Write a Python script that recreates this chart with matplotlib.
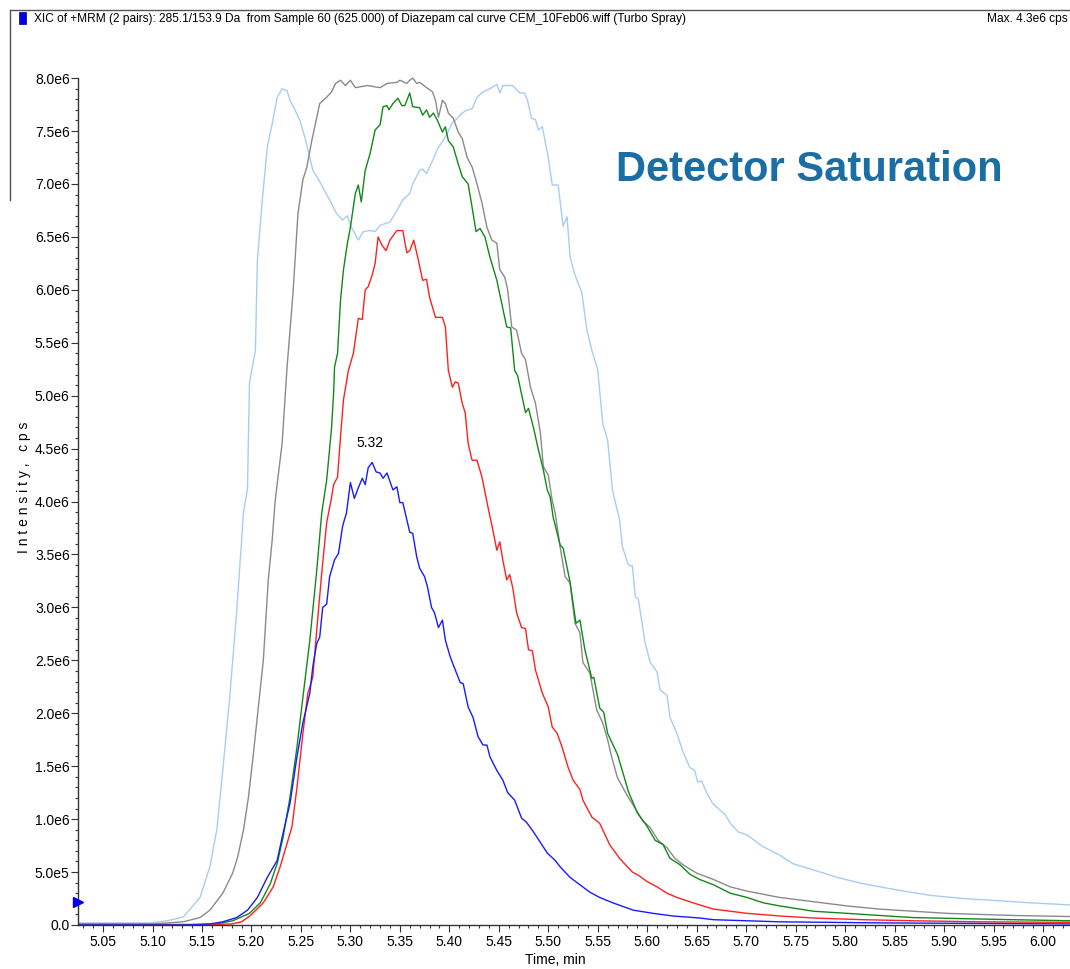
import matplotlib
matplotlib.use("Agg")
import matplotlib.pyplot as plt
from matplotlib.lines import Line2D
from matplotlib.patches import Rectangle
from matplotlib.ticker import MultipleLocator, FuncFormatter

plt.rcParams['font.family'] = ['Liberation Sans', 'DejaVu Sans']

#####################   Data (intensity in 1e6 cps)   ##################
# light blue - saturated sample
lb_t = [5.025, 5.060, 5.098, 5.115, 5.131, 5.148, 5.158, 5.165, 5.171, 5.178, 5.185, 5.192, 5.196,
        5.198, 5.204, 5.206, 5.211, 5.216, 5.221, 5.226, 5.231, 5.236, 5.239, 5.244, 5.249, 5.254,
        5.259, 5.262, 5.266, 5.272, 5.279, 5.286, 5.292, 5.297, 5.300, 5.308, 5.313, 5.320, 5.325,
        5.330, 5.340, 5.347, 5.353, 5.360, 5.363, 5.370, 5.373, 5.377, 5.383, 5.388, 5.393, 5.398,
        5.403, 5.406, 5.413, 5.418, 5.423, 5.428, 5.434, 5.441, 5.448, 5.451, 5.454, 5.464, 5.471,
        5.476, 5.479, 5.483, 5.487, 5.490, 5.494, 5.500, 5.504, 5.510, 5.515, 5.519, 5.522, 5.527,
        5.534, 5.539, 5.544, 5.550, 5.555, 5.560, 5.565, 5.572, 5.575, 5.581, 5.585, 5.588, 5.591,
        5.598, 5.603, 5.610, 5.613, 5.620, 5.623, 5.630, 5.636, 5.643, 5.648, 5.651, 5.655, 5.660,
        5.666, 5.679, 5.684, 5.692, 5.701, 5.717, 5.734, 5.747, 5.768, 5.792, 5.818, 5.853, 5.886,
        5.919, 5.954, 5.987, 6.027]
lb_y = [0.02, 0.02, 0.02, 0.04, 0.075, 0.26, 0.55, 0.90, 1.46, 2.15, 2.95, 3.90, 4.12,
        5.12, 5.43, 6.28, 6.85, 7.35, 7.57, 7.82, 7.90, 7.88, 7.79, 7.70, 7.60, 7.44,
        7.25, 7.13, 7.07, 6.97, 6.85, 6.72, 6.66, 6.70, 6.61, 6.47, 6.55, 6.56, 6.55,
        6.61, 6.64, 6.75, 6.85, 6.91, 7.00, 7.13, 7.14, 7.10, 7.22, 7.33, 7.40, 7.48,
        7.58, 7.60, 7.67, 7.70, 7.71, 7.82, 7.87, 7.90, 7.94, 7.86, 7.93, 7.93, 7.86,
        7.86, 7.79, 7.62, 7.61, 7.51, 7.54, 7.25, 6.99, 6.99, 6.60, 6.69, 6.31, 6.14,
        5.97, 5.62, 5.43, 5.24, 4.74, 4.58, 4.10, 3.83, 3.57, 3.40, 3.39, 3.10, 3.08,
        2.66, 2.48, 2.39, 2.22, 2.17, 1.96, 1.81, 1.64, 1.49, 1.46, 1.35, 1.36, 1.25,
        1.15, 1.04, 0.96, 0.88, 0.85, 0.74, 0.66, 0.58, 0.52, 0.45, 0.39, 0.33, 0.28,
        0.25, 0.23, 0.21, 0.19]

# gray
gr_t = [5.025, 5.100, 5.131, 5.148, 5.158, 5.171, 5.181, 5.186, 5.192, 5.197, 5.202, 5.207, 5.212,
        5.217, 5.221, 5.224, 5.231, 5.236, 5.242, 5.247, 5.252, 5.256, 5.261, 5.264, 5.269, 5.276,
        5.281, 5.285, 5.290, 5.295, 5.300, 5.305, 5.317, 5.330, 5.337, 5.347, 5.350, 5.357, 5.360,
        5.363, 5.367, 5.370, 5.377, 5.383, 5.386, 5.389, 5.393, 5.396, 5.399, 5.404, 5.409, 5.413,
        5.418, 5.423, 5.428, 5.433, 5.438, 5.443, 5.448, 5.451, 5.456, 5.459, 5.463, 5.468, 5.473,
        5.477, 5.482, 5.487, 5.492, 5.495, 5.500, 5.504, 5.507, 5.512, 5.517, 5.522, 5.527, 5.532,
        5.535, 5.542, 5.549, 5.555, 5.560, 5.564, 5.570, 5.580, 5.586, 5.595, 5.603, 5.611, 5.620,
        5.628, 5.636, 5.650, 5.667, 5.684, 5.701, 5.734, 5.768, 5.802, 5.835, 5.869, 5.903, 5.936,
        5.970, 6.027]
gr_y = [0.01, 0.01, 0.03, 0.07, 0.14, 0.30, 0.49, 0.64, 0.90, 1.21, 1.62, 2.06, 2.50,
        3.26, 3.64, 4.01, 4.55, 5.27, 5.97, 6.72, 7.04, 7.16, 7.41, 7.54, 7.76, 7.82,
        7.87, 7.95, 7.98, 7.93, 7.98, 7.91, 7.93, 7.91, 7.95, 7.96, 7.98, 7.95, 7.98,
        8.00, 7.95, 7.96, 7.91, 7.87, 7.79, 7.63, 7.79, 7.76, 7.67, 7.62, 7.49, 7.43,
        7.25, 7.16, 7.00, 6.82, 6.59, 6.47, 6.44, 6.19, 6.12, 6.00, 5.65, 5.62, 5.40,
        5.34, 5.08, 4.93, 4.65, 4.33, 4.25, 4.01, 3.89, 3.57, 3.29, 3.23, 2.85, 2.76,
        2.48, 2.38, 2.03, 1.91, 1.75, 1.59, 1.39, 1.22, 1.13, 0.99, 0.92, 0.80, 0.73,
        0.63, 0.57, 0.49, 0.43, 0.36, 0.32, 0.26, 0.22, 0.18, 0.15, 0.13, 0.11, 0.10,
        0.09, 0.08]

# green
gn_t = [5.025, 5.148, 5.165, 5.181, 5.198, 5.209, 5.219, 5.226, 5.232, 5.239, 5.246, 5.252, 5.259,
        5.266, 5.271, 5.276, 5.281, 5.283, 5.284, 5.287, 5.290, 5.293, 5.297, 5.300, 5.305, 5.308,
        5.311, 5.315, 5.320, 5.325, 5.330, 5.333, 5.337, 5.339, 5.343, 5.348, 5.352, 5.355, 5.360,
        5.363, 5.370, 5.373, 5.377, 5.380, 5.384, 5.388, 5.393, 5.396, 5.399, 5.404, 5.408, 5.413,
        5.419, 5.423, 5.427, 5.431, 5.436, 5.441, 5.448, 5.453, 5.458, 5.462, 5.466, 5.469, 5.477,
        5.480, 5.485, 5.490, 5.495, 5.499, 5.502, 5.505, 5.512, 5.515, 5.522, 5.528, 5.532, 5.537,
        5.544, 5.546, 5.552, 5.556, 5.560, 5.570, 5.576, 5.581, 5.590, 5.600, 5.608, 5.616, 5.623,
        5.633, 5.643, 5.653, 5.667, 5.684, 5.701, 5.717, 5.734, 5.768, 5.802, 5.835, 5.869, 5.919,
        5.970, 6.027]
gn_y = [0.005, 0.005, 0.01, 0.04, 0.11, 0.21, 0.39, 0.58, 0.83, 1.21, 1.68, 2.15, 2.69,
        3.35, 3.89, 4.20, 4.70, 5.02, 5.27, 5.40, 5.90, 6.19, 6.44, 6.59, 6.91, 6.99,
        6.83, 7.13, 7.29, 7.51, 7.56, 7.73, 7.74, 7.70, 7.76, 7.81, 7.74, 7.74, 7.86,
        7.73, 7.72, 7.65, 7.70, 7.63, 7.67, 7.60, 7.49, 7.54, 7.41, 7.35, 7.22, 7.07,
        7.00, 6.78, 6.55, 6.58, 6.50, 6.31, 6.09, 5.87, 5.65, 5.64, 5.24, 5.19, 4.84,
        4.88, 4.70, 4.49, 4.30, 4.11, 4.04, 3.85, 3.59, 3.56, 3.24, 2.85, 2.88, 2.60,
        2.33, 2.34, 2.05, 2.01, 1.81, 1.61, 1.42, 1.26, 1.06, 0.93, 0.80, 0.76, 0.63,
        0.57, 0.48, 0.43, 0.38, 0.30, 0.26, 0.21, 0.18, 0.13, 0.11, 0.09, 0.07, 0.06,
        0.05, 0.04]

# red
rd_t = [5.025, 5.150, 5.180, 5.190, 5.199, 5.212, 5.222, 5.229, 5.236, 5.241, 5.246, 5.252, 5.257,
        5.262, 5.266, 5.271, 5.276, 5.281, 5.283, 5.287, 5.290, 5.293, 5.298, 5.303, 5.308, 5.312,
        5.315, 5.318, 5.322, 5.325, 5.328, 5.332, 5.336, 5.340, 5.347, 5.353, 5.357, 5.360, 5.364,
        5.368, 5.373, 5.377, 5.380, 5.386, 5.393, 5.396, 5.399, 5.403, 5.406, 5.409, 5.413, 5.416,
        5.419, 5.423, 5.428, 5.433, 5.439, 5.444, 5.448, 5.451, 5.454, 5.458, 5.461, 5.464, 5.468,
        5.473, 5.477, 5.480, 5.484, 5.487, 5.494, 5.500, 5.504, 5.509, 5.514, 5.520, 5.525, 5.532,
        5.535, 5.544, 5.552, 5.562, 5.572, 5.585, 5.591, 5.600, 5.610, 5.620, 5.630, 5.643, 5.653,
        5.667, 5.701, 5.734, 5.768, 5.818, 5.869, 5.936, 6.027]
rd_y = [0.0, 0.0, 0.01, 0.03, 0.09, 0.21, 0.36, 0.55, 0.77, 0.93, 1.30, 1.81, 2.19,
        2.34, 2.79, 3.32, 3.80, 4.04, 4.16, 4.23, 4.61, 4.96, 5.24, 5.40, 5.73, 5.72,
        6.00, 6.03, 6.14, 6.25, 6.50, 6.42, 6.37, 6.47, 6.56, 6.56, 6.35, 6.37, 6.47,
        6.31, 6.09, 6.10, 5.93, 5.74, 5.74, 5.65, 5.24, 5.08, 5.13, 5.12, 4.93, 4.84,
        4.55, 4.39, 4.39, 4.23, 3.95, 3.73, 3.54, 3.62, 3.45, 3.26, 3.31, 3.19, 2.95,
        2.81, 2.80, 2.60, 2.59, 2.41, 2.19, 2.06, 1.87, 1.81, 1.68, 1.49, 1.37, 1.28,
        1.18, 1.02, 0.96, 0.76, 0.63, 0.50, 0.47, 0.41, 0.36, 0.30, 0.26, 0.22, 0.19,
        0.15, 0.11, 0.085, 0.066, 0.05, 0.04, 0.03, 0.025]

# blue
bl_t = [5.025, 5.131, 5.158, 5.171, 5.185, 5.196, 5.206, 5.216, 5.226, 5.232, 5.239, 5.246, 5.252,
        5.259, 5.262, 5.266, 5.269, 5.272, 5.276, 5.279, 5.284, 5.288, 5.292, 5.294, 5.296, 5.300,
        5.304, 5.308, 5.312, 5.315, 5.318, 5.322, 5.326, 5.330, 5.333, 5.337, 5.343, 5.347, 5.350,
        5.353, 5.357, 5.360, 5.363, 5.367, 5.370, 5.375, 5.378, 5.382, 5.385, 5.389, 5.393, 5.396,
        5.401, 5.406, 5.411, 5.414, 5.419, 5.424, 5.429, 5.434, 5.438, 5.441, 5.448, 5.454, 5.459,
        5.466, 5.473, 5.478, 5.485, 5.492, 5.499, 5.507, 5.512, 5.522, 5.532, 5.542, 5.552, 5.565,
        5.586, 5.606, 5.626, 5.653, 5.667, 5.734, 5.835, 6.027]
bl_y = [0.0, 0.0, 0.01, 0.03, 0.07, 0.14, 0.26, 0.45, 0.61, 0.87, 1.15, 1.59, 1.91,
        2.19, 2.44, 2.66, 2.72, 3.00, 3.03, 3.29, 3.45, 3.51, 3.76, 3.83, 3.89, 4.18,
        4.03, 4.13, 4.22, 4.16, 4.32, 4.37, 4.28, 4.27, 4.22, 4.27, 4.11, 4.14, 3.99,
        3.99, 3.83, 3.71, 3.70, 3.48, 3.37, 3.29, 3.19, 3.00, 2.95, 2.81, 2.88, 2.69,
        2.53, 2.41, 2.29, 2.28, 2.06, 1.96, 1.78, 1.70, 1.70, 1.59, 1.46, 1.37, 1.25,
        1.18, 1.01, 0.97, 0.88, 0.78, 0.68, 0.61, 0.55, 0.45, 0.38, 0.31, 0.26, 0.21,
        0.14, 0.11, 0.085, 0.066, 0.05, 0.03, 0.02, 0.01]

peak_time = 5.32
peak_value = 4.37
threshold = 0.22

header = ("XIC of +MRM (2 pairs): 285.1/153.9 Da  from Sample 60 (625.000) of "
          "Diazepam cal curve CEM_10Feb06.wiff (Turbo Spray)")
max_text = "Max. 4.3e6 cps"

################# FIGURE ######################
W, H = 1070, 969
fig = plt.figure(figsize=(W / 100, H / 100), dpi=100)
ax = fig.add_axes([78 / W, 44 / H, 1 - 78 / W, 849 / H])

series = [(lb_t, lb_y, '#a8cdf2'), (gr_t, gr_y, '#8a8a8a'), (gn_t, gn_y, '#13881a'),
          (rd_t, rd_y, '#ff2020'), (bl_t, bl_y, '#1a1aff')]
for t, y, c in series:
    ax.plot(t, [v * 1e6 for v in y], color=c, lw=1.0)

ax.set_xlim(5.0247, 6.0273)
ax.set_ylim(0, 8.02e6)

for s in ['top', 'right']:
    ax.spines[s].set_visible(False)
ax.spines['left'].set_bounds(0, 8.0e6)
for s in ['left', 'bottom']:
    ax.spines[s].set_color('#333333')
    ax.spines[s].set_linewidth(1.0)

ax.xaxis.set_major_locator(MultipleLocator(0.05))
ax.xaxis.set_minor_locator(MultipleLocator(0.01))
ax.yaxis.set_major_locator(MultipleLocator(0.5e6))
ax.yaxis.set_minor_locator(MultipleLocator(0.1e6))


def yfmt(v, pos):
    if v == 0:
        return '0.0'
    if v < 1e6:
        return '%.1fe5' % (v / 1e5)
    return '%.1fe6' % (v / 1e6)


ax.yaxis.set_major_formatter(FuncFormatter(yfmt))
ax.xaxis.set_major_formatter(FuncFormatter(lambda v, p: '%.2f' % v))
ax.tick_params(axis='both', which='major', length=5, width=0.8, color='#333333',
               labelsize=10, pad=2)
ax.tick_params(axis='both', which='minor', length=2.5, width=0.8, color='#333333')
ax.tick_params(axis='y', pad=1)

# threshold marker
ax.plot([5.0247], [threshold * 1e6], marker='>', color='#0000ee', ms=7, clip_on=False,
        zorder=5)

ax.text(peak_time, peak_value * 1e6 + 0.12e6, '%.2f' % peak_time, ha='center', va='bottom',
        fontsize=10)

ax.text(0.542, 0.889, 'Detector Saturation', transform=ax.transAxes, fontsize=30,
        fontweight='bold', color='#1a6ea4', ha='left', va='center')

fig.text(24 / W, 1 - 487 / H, 'I n t e n s i t y ,   c p s', rotation=90, ha='center',
         va='center', fontsize=10)
fig.text(555 / W, 1 - 960 / H, 'Time, min', ha='center', va='center', fontsize=10)

# header frame
fig.add_artist(Line2D([10 / W, 1.0], [1 - 10 / H, 1 - 10 / H], color='#555555', lw=1))
fig.add_artist(Line2D([10 / W, 10 / W], [1 - 10 / H, 1 - 200 / H], color='#555555', lw=1))
fig.add_artist(Rectangle((19 / W, 1 - 24 / H), 7 / W, 12 / H, transform=fig.transFigure,
                         facecolor='#0000ee', edgecolor='#000066', lw=0.5))
fig.text(34 / W, 1 - 19 / H, header, ha='left', va='center', fontsize=8.6)
fig.text(1068 / W, 1 - 19 / H, max_text, ha='right', va='center', fontsize=8.6)

fig.savefig('out.png', dpi=100)
